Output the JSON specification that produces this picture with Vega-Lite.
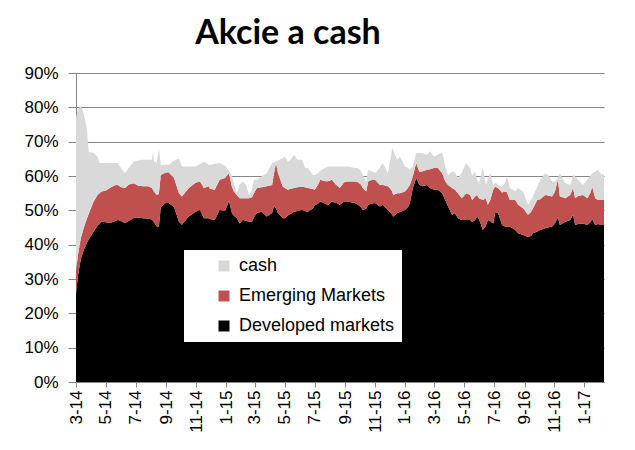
{
  "$schema": "https://vega.github.io/schema/vega-lite/v6.json",
  "width": 528,
  "height": 309,
  "autosize": {"type": "none"},
  "padding": {"left": 76, "top": 73, "right": 31, "bottom": 68},
  "background": "white",
  "title": {"text": "Akcie a cash", "font": "Lato", "fontWeight": "bold", "fontSize": 34, "color": "black", "anchor": "middle", "dx": -52, "offset": 13},
  "data": {"values": [
    {"date":"2014-03-01","Developed markets":25.5,"Emerging Markets":7.0,"cash":44.5},
    {"date":"2014-03-05","Developed markets":31,"Emerging Markets":6,"cash":42.5},
    {"date":"2014-03-11","Developed markets":36,"Emerging Markets":6,"cash":38.3},
    {"date":"2014-03-17","Developed markets":38.5,"Emerging Markets":6.5,"cash":33},
    {"date":"2014-03-23","Developed markets":40.5,"Emerging Markets":7,"cash":26.5},
    {"date":"2014-03-27","Developed markets":41.5,"Emerging Markets":7.5,"cash":18},
    {"date":"2014-04-06","Developed markets":43.8,"Emerging Markets":8.8,"cash":14.1},
    {"date":"2014-04-14","Developed markets":45.5,"Emerging Markets":9,"cash":11},
    {"date":"2014-04-18","Developed markets":46,"Emerging Markets":9,"cash":8.8},
    {"date":"2014-04-22","Developed markets":46.7,"Emerging Markets":8.8,"cash":8.3},
    {"date":"2014-05-01","Developed markets":46.5,"Emerging Markets":9.3,"cash":8},
    {"date":"2014-05-09","Developed markets":46.3,"Emerging Markets":10.2,"cash":7.3},
    {"date":"2014-05-19","Developed markets":46.8,"Emerging Markets":10.5,"cash":6.5},
    {"date":"2014-05-25","Developed markets":47.2,"Emerging Markets":10.2,"cash":6.4},
    {"date":"2014-05-31","Developed markets":47,"Emerging Markets":9.8,"cash":5.7},
    {"date":"2014-06-09","Developed markets":46.3,"Emerging Markets":10.2,"cash":4.3},
    {"date":"2014-06-17","Developed markets":47,"Emerging Markets":10.5,"cash":5},
    {"date":"2014-06-27","Developed markets":47.8,"Emerging Markets":10.1,"cash":6.3},
    {"date":"2014-07-05","Developed markets":47.9,"Emerging Markets":9.3,"cash":7.3},
    {"date":"2014-07-15","Developed markets":47.7,"Emerging Markets":9.3,"cash":7.7},
    {"date":"2014-07-26","Developed markets":47.6,"Emerging Markets":9.4,"cash":7.7},
    {"date":"2014-08-03","Developed markets":47.3,"Emerging Markets":9.2,"cash":8.2},
    {"date":"2014-08-05","Developed markets":47,"Emerging Markets":9,"cash":11.4},
    {"date":"2014-08-07","Developed markets":46.5,"Emerging Markets":9,"cash":8.7},
    {"date":"2014-08-13","Developed markets":45.3,"Emerging Markets":9.2,"cash":9.5},
    {"date":"2014-08-17","Developed markets":45.3,"Emerging Markets":9.5,"cash":13.3},
    {"date":"2014-08-21","Developed markets":51,"Emerging Markets":9.3,"cash":3},
    {"date":"2014-08-31","Developed markets":52.1,"Emerging Markets":8.9,"cash":2.3},
    {"date":"2014-09-06","Developed markets":52.1,"Emerging Markets":9,"cash":2.2},
    {"date":"2014-09-17","Developed markets":51,"Emerging Markets":8.4,"cash":5.1},
    {"date":"2014-09-27","Developed markets":46.7,"Emerging Markets":8.3,"cash":10.2},
    {"date":"2014-10-03","Developed markets":45.8,"Emerging Markets":8.2,"cash":8.8},
    {"date":"2014-10-17","Developed markets":48.2,"Emerging Markets":8.3,"cash":6.3},
    {"date":"2014-10-31","Developed markets":49.6,"Emerging Markets":8.4,"cash":4.8},
    {"date":"2014-11-09","Developed markets":50.1,"Emerging Markets":8.3,"cash":5.1},
    {"date":"2014-11-17","Developed markets":47.7,"Emerging Markets":8.8,"cash":7.7},
    {"date":"2014-11-27","Developed markets":47.7,"Emerging Markets":9.3,"cash":6.3},
    {"date":"2014-11-29","Developed markets":47.5,"Emerging Markets":8.8,"cash":6.9},
    {"date":"2014-12-09","Developed markets":47.2,"Emerging Markets":8.8,"cash":7.6},
    {"date":"2014-12-19","Developed markets":50.1,"Emerging Markets":8.8,"cash":4.9},
    {"date":"2014-12-30","Developed markets":49.8,"Emerging Markets":9.6,"cash":3.6},
    {"date":"2015-01-07","Developed markets":52.7,"Emerging Markets":8.1,"cash":0.7},
    {"date":"2015-01-13","Developed markets":49.2,"Emerging Markets":7.7,"cash":3.1},
    {"date":"2015-01-17","Developed markets":48.5,"Emerging Markets":7,"cash":2.4},
    {"date":"2015-01-23","Developed markets":47.7,"Emerging Markets":6.8,"cash":0.5},
    {"date":"2015-01-29","Developed markets":46.2,"Emerging Markets":7.3,"cash":4},
    {"date":"2015-02-04","Developed markets":47.2,"Emerging Markets":6.3,"cash":4.9},
    {"date":"2015-02-11","Developed markets":47,"Emerging Markets":6.5,"cash":3.9},
    {"date":"2015-02-17","Developed markets":46.7,"Emerging Markets":6.8,"cash":1},
    {"date":"2015-02-23","Developed markets":46.7,"Emerging Markets":7.1,"cash":2.2},
    {"date":"2015-02-27","Developed markets":48,"Emerging Markets":7,"cash":3.9},
    {"date":"2015-03-05","Developed markets":49.2,"Emerging Markets":7.3,"cash":2.5},
    {"date":"2015-03-15","Developed markets":49.6,"Emerging Markets":7.1,"cash":3.2},
    {"date":"2015-03-25","Developed markets":48.2,"Emerging Markets":8.8,"cash":3.8},
    {"date":"2015-04-05","Developed markets":49.2,"Emerging Markets":8.2,"cash":6.4},
    {"date":"2015-04-09","Developed markets":51.3,"Emerging Markets":9.5,"cash":3.2},
    {"date":"2015-04-13","Developed markets":50.5,"Emerging Markets":13.3,"cash":0.4},
    {"date":"2015-04-17","Developed markets":49.2,"Emerging Markets":11.6,"cash":3.7},
    {"date":"2015-04-27","Developed markets":47.7,"Emerging Markets":9.2,"cash":8.3},
    {"date":"2015-05-01","Developed markets":47.7,"Emerging Markets":8.8,"cash":9.2},
    {"date":"2015-05-07","Developed markets":48.5,"Emerging Markets":7.5,"cash":8.2},
    {"date":"2015-05-13","Developed markets":49,"Emerging Markets":7.3,"cash":8.4},
    {"date":"2015-05-20","Developed markets":49.6,"Emerging Markets":6.9,"cash":9.7},
    {"date":"2015-05-26","Developed markets":49.8,"Emerging Markets":6.9,"cash":8},
    {"date":"2015-06-05","Developed markets":50.1,"Emerging Markets":6.8,"cash":7.8},
    {"date":"2015-06-11","Developed markets":49.8,"Emerging Markets":6.9,"cash":5.6},
    {"date":"2015-06-17","Developed markets":49.6,"Emerging Markets":6.9,"cash":5.8},
    {"date":"2015-06-27","Developed markets":50.5,"Emerging Markets":5.7,"cash":4.1},
    {"date":"2015-07-01","Developed markets":51.5,"Emerging Markets":4.5,"cash":4.3},
    {"date":"2015-07-08","Developed markets":52,"Emerging Markets":5.5,"cash":3.3},
    {"date":"2015-07-12","Developed markets":52.6,"Emerging Markets":6.3,"cash":2.6},
    {"date":"2015-07-22","Developed markets":52,"Emerging Markets":6.5,"cash":3.8},
    {"date":"2015-07-28","Developed markets":51.5,"Emerging Markets":7,"cash":4.3},
    {"date":"2015-08-05","Developed markets":52.6,"Emerging Markets":6.3,"cash":3.9},
    {"date":"2015-08-13","Developed markets":52.2,"Emerging Markets":5.3,"cash":5.3},
    {"date":"2015-08-21","Developed markets":51.6,"Emerging Markets":4.9,"cash":6.3},
    {"date":"2015-08-30","Developed markets":52.6,"Emerging Markets":5.6,"cash":4.6},
    {"date":"2015-09-07","Developed markets":52.6,"Emerging Markets":5.8,"cash":4.4},
    {"date":"2015-09-15","Developed markets":52.3,"Emerging Markets":6.1,"cash":4.1},
    {"date":"2015-09-21","Developed markets":52.1,"Emerging Markets":6.3,"cash":3.9},
    {"date":"2015-09-27","Developed markets":51.6,"Emerging Markets":6.6,"cash":4.1},
    {"date":"2015-10-03","Developed markets":51,"Emerging Markets":6.5,"cash":4},
    {"date":"2015-10-07","Developed markets":50.1,"Emerging Markets":6.4,"cash":3.8},
    {"date":"2015-10-14","Developed markets":50.5,"Emerging Markets":5,"cash":2.9},
    {"date":"2015-10-18","Developed markets":51.6,"Emerging Markets":6.8,"cash":3.4},
    {"date":"2015-10-26","Developed markets":52,"Emerging Markets":6.9,"cash":2.4},
    {"date":"2015-11-01","Developed markets":52.1,"Emerging Markets":6.8,"cash":1.9},
    {"date":"2015-11-11","Developed markets":51.1,"Emerging Markets":6.3,"cash":5.1},
    {"date":"2015-11-17","Developed markets":51.6,"Emerging Markets":5.8,"cash":6.4},
    {"date":"2015-11-27","Developed markets":50.1,"Emerging Markets":6.9,"cash":3.8},
    {"date":"2015-12-01","Developed markets":49.5,"Emerging Markets":7,"cash":7.5},
    {"date":"2015-12-06","Developed markets":48.7,"Emerging Markets":6.8,"cash":12.6},
    {"date":"2015-12-08","Developed markets":48.2,"Emerging Markets":6.3,"cash":13.1},
    {"date":"2015-12-16","Developed markets":49.2,"Emerging Markets":5.8,"cash":9.7},
    {"date":"2015-12-22","Developed markets":49.5,"Emerging Markets":5.5,"cash":10.7},
    {"date":"2016-01-01","Developed markets":50.1,"Emerging Markets":5.4,"cash":7.3},
    {"date":"2016-01-07","Developed markets":51,"Emerging Markets":5.5,"cash":5.8},
    {"date":"2016-01-11","Developed markets":52.1,"Emerging Markets":5.3,"cash":4.4},
    {"date":"2016-01-17","Developed markets":56.5,"Emerging Markets":3.4,"cash":2.9},
    {"date":"2016-01-24","Developed markets":59.4,"Emerging Markets":4.4,"cash":2.9},
    {"date":"2016-01-30","Developed markets":57.5,"Emerging Markets":3.8,"cash":5.4},
    {"date":"2016-02-05","Developed markets":57,"Emerging Markets":4.3,"cash":5.4},
    {"date":"2016-02-15","Developed markets":57.4,"Emerging Markets":4.4,"cash":4.4},
    {"date":"2016-02-21","Developed markets":56.5,"Emerging Markets":5.5,"cash":5.2},
    {"date":"2016-02-29","Developed markets":56,"Emerging Markets":6.3,"cash":3.4},
    {"date":"2016-03-08","Developed markets":56,"Emerging Markets":6.3,"cash":3.9},
    {"date":"2016-03-17","Developed markets":55,"Emerging Markets":5.8,"cash":6.1},
    {"date":"2016-03-23","Developed markets":53,"Emerging Markets":5.5,"cash":4.3},
    {"date":"2016-03-29","Developed markets":51.1,"Emerging Markets":6.3,"cash":2.9},
    {"date":"2016-04-06","Developed markets":48.7,"Emerging Markets":7.8,"cash":4.8},
    {"date":"2016-04-12","Developed markets":49.2,"Emerging Markets":6.8,"cash":5},
    {"date":"2016-04-18","Developed markets":47.7,"Emerging Markets":7.3,"cash":4.4},
    {"date":"2016-04-26","Developed markets":47.2,"Emerging Markets":6.3,"cash":7.5},
    {"date":"2016-05-05","Developed markets":47.2,"Emerging Markets":7.8,"cash":8.8},
    {"date":"2016-05-13","Developed markets":47.2,"Emerging Markets":7.3,"cash":7.8},
    {"date":"2016-05-17","Developed markets":46.5,"Emerging Markets":6.5,"cash":7},
    {"date":"2016-05-23","Developed markets":47.2,"Emerging Markets":6.8,"cash":7.3},
    {"date":"2016-05-27","Developed markets":48.2,"Emerging Markets":6.3,"cash":4.5},
    {"date":"2016-05-31","Developed markets":47.5,"Emerging Markets":6,"cash":4.4},
    {"date":"2016-06-08","Developed markets":44.3,"Emerging Markets":8.7,"cash":9.6},
    {"date":"2016-06-14","Developed markets":45.5,"Emerging Markets":8,"cash":3.9},
    {"date":"2016-06-18","Developed markets":47.2,"Emerging Markets":4.4,"cash":7.4},
    {"date":"2016-06-23","Developed markets":46.8,"Emerging Markets":6.2,"cash":7.8},
    {"date":"2016-06-29","Developed markets":46.2,"Emerging Markets":9.8,"cash":1.4},
    {"date":"2016-07-03","Developed markets":49.2,"Emerging Markets":7.7,"cash":1.1},
    {"date":"2016-07-09","Developed markets":49.2,"Emerging Markets":7.3,"cash":1},
    {"date":"2016-07-17","Developed markets":45.7,"Emerging Markets":9.5,"cash":1.5},
    {"date":"2016-07-23","Developed markets":45.3,"Emerging Markets":10.2,"cash":2.5},
    {"date":"2016-07-27","Developed markets":45.3,"Emerging Markets":10,"cash":4.6},
    {"date":"2016-08-02","Developed markets":45.3,"Emerging Markets":7.7,"cash":3.5},
    {"date":"2016-08-13","Developed markets":44.3,"Emerging Markets":8.7,"cash":2.5},
    {"date":"2016-08-19","Developed markets":43.3,"Emerging Markets":8.3,"cash":4.9},
    {"date":"2016-08-29","Developed markets":42.8,"Emerging Markets":7.8,"cash":4.9},
    {"date":"2016-09-08","Developed markets":42.2,"Emerging Markets":6.5,"cash":2.9},
    {"date":"2016-09-14","Developed markets":42.5,"Emerging Markets":7,"cash":3.5},
    {"date":"2016-09-18","Developed markets":43.3,"Emerging Markets":7.2,"cash":3.5},
    {"date":"2016-09-27","Developed markets":43.8,"Emerging Markets":9.2,"cash":3.9},
    {"date":"2016-10-03","Developed markets":44.3,"Emerging Markets":8.9,"cash":5.7},
    {"date":"2016-10-13","Developed markets":44.8,"Emerging Markets":9.7,"cash":6.3},
    {"date":"2016-10-19","Developed markets":45,"Emerging Markets":9.3,"cash":6},
    {"date":"2016-10-27","Developed markets":45.3,"Emerging Markets":8.7,"cash":4.4},
    {"date":"2016-11-02","Developed markets":46.2,"Emerging Markets":9.3,"cash":2.9},
    {"date":"2016-11-08","Developed markets":48,"Emerging Markets":10.9,"cash":0.5},
    {"date":"2016-11-12","Developed markets":45.7,"Emerging Markets":8.3,"cash":6.8},
    {"date":"2016-11-23","Developed markets":46.7,"Emerging Markets":6.8,"cash":4.4},
    {"date":"2016-12-03","Developed markets":47.2,"Emerging Markets":7.3,"cash":2.9},
    {"date":"2016-12-09","Developed markets":48.7,"Emerging Markets":7.8,"cash":3.8},
    {"date":"2016-12-13","Developed markets":45.7,"Emerging Markets":7.8,"cash":6.4},
    {"date":"2016-12-19","Developed markets":46,"Emerging Markets":8.2,"cash":4.7},
    {"date":"2016-12-29","Developed markets":46.2,"Emerging Markets":8.3,"cash":2.9},
    {"date":"2017-01-07","Developed markets":45.7,"Emerging Markets":7.8,"cash":5.5},
    {"date":"2017-01-13","Developed markets":46.5,"Emerging Markets":8.5,"cash":5},
    {"date":"2017-01-17","Developed markets":47.4,"Emerging Markets":9.5,"cash":3.9},
    {"date":"2017-01-23","Developed markets":45.7,"Emerging Markets":7.8,"cash":7.8},
    {"date":"2017-01-29","Developed markets":46,"Emerging Markets":7,"cash":8.8},
    {"date":"2017-02-04","Developed markets":45.7,"Emerging Markets":7.3,"cash":7.5},
    {"date":"2017-02-10","Developed markets":45.7,"Emerging Markets":7.3,"cash":7.5}
  ]},
  "transform": [{"fold": ["Developed markets", "Emerging Markets", "cash"], "as": ["series", "value"]}],
  "mark": {"type": "area", "interpolate": "linear", "opacity": 1},
  "encoding": {
    "x": {
      "field": "date", "type": "temporal",
      "scale": {"type": "utc", "domain": [{"year": 2014, "month": 3, "date": 1, "utc": true}, {"year": 2017, "month": 2, "date": 10, "utc": true}]},
      "axis": {"title": null, "tickCount": {"interval": "month", "step": 2}, "labelExpr": "utcFormat(datum.value, '%-m-%y')", "labelAngle": 270, "labelAlign": "right", "labelBaseline": "middle", "labelFont": "Liberation Sans", "labelFontSize": 17, "labelColor": "black", "tickColor": "#868686", "tickSize": 5, "domainColor": "#868686", "grid": false, "labelPadding": 3, "labelOverlap": false, "labelFlush": false}
    },
    "y": {
      "field": "value", "type": "quantitative", "stack": "zero",
      "scale": {"domain": [0, 90], "nice": false},
      "axis": {"title": null, "values": [0, 10, 20, 30, 40, 50, 60, 70, 80, 90], "labelExpr": "datum.value + '%'", "labelFont": "Liberation Sans", "labelFontSize": 17, "labelColor": "black", "tickColor": "#868686", "tickSize": 8, "labelPadding": 10, "domainColor": "#868686", "grid": true, "gridColor": "#868686"}
    },
    "color": {
      "field": "series", "type": "nominal",
      "scale": {"domain": ["cash", "Emerging Markets", "Developed markets"], "range": ["#D9D9D9", "#C0504D", "#000000"]},
      "legend": {"title": null, "orient": "none", "legendX": 108, "legendY": 177, "fillColor": "white", "padding": 7, "symbolType": "square", "symbolSize": 121, "symbolStrokeWidth": 0, "symbolOffset": 24, "labelFont": "Liberation Sans", "labelFontSize": 18, "labelColor": "black", "rowPadding": 12, "labelOffset": 6}
    },
    "order": {"field": "series", "sort": "ascending"}
  },
  "config": {"view": {"stroke": null}}
}
